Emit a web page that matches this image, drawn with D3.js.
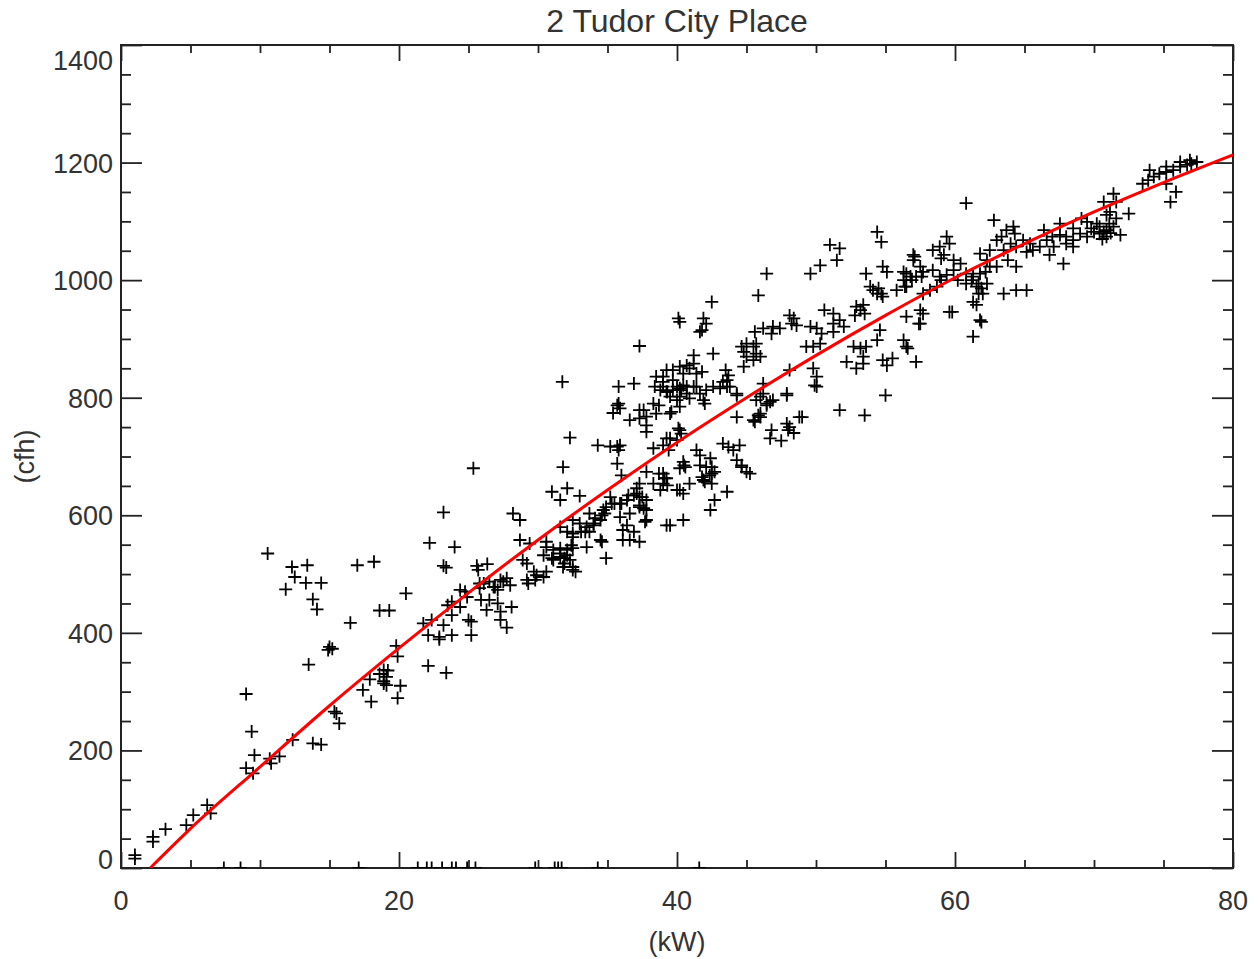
<!DOCTYPE html>
<html>
<head>
<meta charset="utf-8">
<script src="https://cdn.jsdelivr.net/npm/d3@7"></script>
<style>
  body { margin: 0; background: #fff; }
  svg text { font-family: "Liberation Sans", Arial, sans-serif; fill: #333; }
</style>
</head>
<body>
<div id="chart"></div>
<script>
// 2 Tudor City Place - 燃气用量 vs 电负荷 散点 + 拟合曲线

const TITLE = '2 Tudor City Place';
const X_LABEL = '(kW)';
const Y_LABEL = '(cfh)';
const X_TICKS = [0, 20, 40, 60, 80];
const Y_TICKS = [0, 200, 400, 600, 800, 1000, 1200, 1400];

const readings = [
    // 低负荷
    [1.0, 22], [1.0, 16], [2.3, 53], [2.3, 45], [3.2, 66], [4.7, 73], [5.2, 90], [6.2, 107], [6.45, 93],
    [9.0, 296], [9.4, 232], [9.6, 192], [10.7, 186], [11.4, 190], [10.8, 178], [9.0, 170], [9.5, 161],
    // 10 - 21 kW
    [10.55, 535], [12.3, 512], [13.4, 515], [12.5, 495], [13.3, 485], [14.4, 485], [11.85, 474], [13.8, 457],
    [14.1, 440], [17.0, 515], [18.2, 521], [20.5, 467], [18.6, 438], [19.3, 438], [16.5, 417], [15.0, 376],
    [15.2, 373], [14.9, 371], [13.5, 346], [19.8, 378], [19.9, 360], [18.9, 337], [19.2, 336], [18.6, 330],
    [17.9, 321], [18.9, 318], [19.1, 311], [20.1, 310], [19.9, 289], [17.4, 303], [18.0, 283], [15.35, 266],
    [15.5, 263], [15.7, 246], [12.35, 218], [13.8, 212], [14.4, 210], [19.1, 325], [18.9, 314],
    // 21 - 26 kW
    [22.2, 553], [24.0, 546], [23.2, 514], [23.4, 511], [25.6, 514], [25.7, 507], [26.35, 517], [24.75, 470],
    [23.8, 453], [24.4, 444], [23.5, 447], [23.8, 430], [22.35, 422], [23.2, 413], [21.75, 416], [22.1, 396],
    [22.9, 393], [23.8, 396], [22.9, 389], [25.0, 422], [25.2, 419], [25.2, 396], [22.1, 344], [23.4, 332],
    [23.2, 605], [25.35, 680], [24.4, 473], [24.9, 461],
    // 26 - 28 kW
    [25.8, 484], [26.5, 487], [26.9, 478], [27.3, 490], [27.5, 487], [27.75, 493], [28.0, 481], [27.1, 473],
    [25.9, 456], [26.5, 456], [26.3, 439], [27.1, 450], [27.3, 436], [28.1, 444], [27.3, 422], [27.75, 409],
    [25.8, 476], [26.1, 484], [26.8, 478], [28.2, 603], [28.7, 592],
    // 28 - 33 kW
    [28.9, 524], [29.2, 518], [29.7, 504], [29.9, 498], [30.4, 495], [30.6, 504], [29.3, 484], [29.8, 490],
    [28.7, 558], [29.4, 552], [29.2, 490], [30.6, 546], [31.1, 541], [31.6, 535], [32.1, 541], [32.4, 549],
    [31.9, 527], [32.3, 524], [32.5, 507], [31.0, 527], [30.4, 532], [31.6, 544], [32.1, 532], [31.8, 512],
    [32.7, 504], [32.5, 512], [31.9, 518], [31.1, 524], [32.5, 544], [31.6, 529], [30.6, 555],
    [31.75, 827], [32.3, 732], [31.8, 682], [31.0, 640], [31.6, 626], [32.1, 646], [33.0, 633],
    // 32 - 36 kW
    [32.5, 592], [33.0, 586], [33.4, 572], [32.5, 563], [31.6, 580], [32.1, 572], [33.5, 580], [33.7, 572],
    [34.6, 600], [34.8, 603], [34.5, 592], [34.0, 586], [34.5, 558], [34.6, 555], [33.7, 603], [34.1, 595],
    [34.7, 609], [34.9, 614], [35.3, 620], [33.1, 572], [32.5, 569], [33.5, 546], [34.9, 527], [34.0, 583],
    [34.3, 719], [35.7, 717], [35.8, 711], [35.7, 688], [35.7, 787], [35.9, 782], [35.4, 774], [35.8, 819],
    [36.9, 824], [35.2, 717], [35.9, 719], [35.8, 790], [36.0, 668],
    // 35 - 38 kW
    [35.2, 631], [35.5, 620], [36.0, 620], [36.4, 626], [36.5, 634], [37.1, 637], [37.5, 631], [37.8, 626],
    [37.3, 617], [37.6, 612], [37.8, 592], [35.9, 597], [36.4, 583], [36.1, 575], [36.9, 572], [36.1, 558],
    [37.3, 555], [37.3, 654], [37.1, 646], [36.6, 603], [37.7, 589], [37.8, 609], [37.3, 614],
    [36.6, 762], [37.3, 765], [37.6, 779], [37.8, 753], [37.8, 742], [38.5, 773], [38.7, 787], [39.6, 776],
    [37.3, 779], [37.8, 768], [38.3, 790], [39.5, 773], [40.2, 785], [40.2, 745], [39.5, 731], [39.0, 719],
    [38.3, 714], [37.3, 888],
    // 38 - 45 kW 上方密集区
    [38.5, 836], [39.0, 836], [38.4, 819], [39.0, 819], [39.3, 810], [39.7, 813], [40.0, 819], [40.3, 813],
    [40.7, 819], [39.7, 847], [40.2, 853], [40.9, 850], [41.2, 858], [41.4, 841], [41.8, 844], [41.2, 872],
    [42.6, 875], [41.2, 819], [41.65, 807], [40.9, 799], [40.2, 802], [42.0, 790], [42.6, 819], [43.3, 827],
    [43.7, 838], [43.6, 819], [44.3, 804], [44.8, 853], [39.25, 847], [40.7, 855], [40.45, 841], [39.7, 830],
    [39.0, 827], [38.8, 813], [39.25, 810], [40.2, 816], [39.5, 802], [40.0, 796], [40.45, 821], [40.7, 807],
    [41.4, 819], [42.1, 813], [41.9, 796], [43.1, 816], [43.6, 830], [43.8, 819], [44.3, 807], [43.5, 847],
    [40.1, 935], [40.2, 929], [41.9, 935], [42.1, 926], [41.65, 912], [41.8, 915], [42.5, 963],
    // 38 - 45 kW 下方
    [40.1, 748], [40.3, 739], [40.0, 728], [39.25, 731], [39.4, 711], [41.4, 711], [41.65, 702], [42.4, 697],
    [42.5, 682], [41.65, 685], [40.45, 691], [40.6, 682], [39.0, 671], [39.25, 663], [39.0, 654], [37.8, 674],
    [38.3, 654], [38.8, 643], [40.2, 643], [40.45, 637], [41.8, 665], [42.0, 657], [42.5, 654], [42.7, 674],
    [42.35, 668], [43.3, 722], [43.7, 716], [44.05, 711], [44.5, 719], [44.3, 694], [44.65, 685], [45.0, 674],
    [43.6, 640], [42.7, 626], [42.4, 609], [40.45, 592], [39.5, 583], [39.25, 583], [38.7, 671], [39.1, 663],
    [39.3, 651], [40.0, 643], [40.5, 685], [40.2, 680], [40.9, 654], [41.9, 660], [42.5, 671], [42.1, 682],
    [36.9, 634], [35.9, 620], [36.6, 558], [37.3, 631], [44.65, 682], [45.25, 671],
    // 44 - 50 kW
    [44.65, 887], [45.0, 892], [45.5, 887], [45.7, 875], [46.0, 870], [45.5, 864], [45.0, 870], [45.7, 892],
    [44.8, 878], [45.6, 912], [46.2, 918], [46.9, 921], [46.8, 909], [47.4, 918], [48.4, 935], [48.25, 926],
    [48.6, 923], [48.1, 940], [49.6, 921], [50.05, 918], [50.3, 892], [49.8, 887], [49.3, 887], [50.4, 909],
    [45.85, 974], [46.45, 1011],
    [49.8, 850], [50.05, 836], [50.05, 819], [48.1, 847], [47.9, 807], [46.45, 790], [46.0, 773], [46.9, 796],
    [49.9, 821], [47.9, 804], [46.7, 793], [46.45, 787], [46.2, 824], [46.2, 807], [45.85, 770], [45.6, 759],
    [49.0, 767], [46.8, 745], [47.9, 756], [48.1, 750], [48.0, 745], [48.4, 740], [47.5, 727], [46.7, 731],
    [48.8, 767], [45.5, 762], [46.0, 767], [44.3, 767], [46.0, 802], [45.7, 796],
    // 50 - 55 kW
    [50.6, 949], [51.25, 943], [51.25, 926], [51.7, 932], [52.0, 921], [51.25, 912], [52.9, 955], [53.2, 949],
    [53.4, 958], [53.5, 943], [52.8, 940], [53.9, 989], [54.1, 983], [54.4, 977], [54.7, 977], [54.8, 972],
    [54.5, 986], [53.6, 1011], [54.8, 1023], [55.1, 1014], [54.4, 1082], [54.7, 1065], [51.0, 1060],
    [51.7, 1054], [51.5, 1034], [50.3, 1025], [49.6, 1011],
    [52.2, 861], [53.4, 870], [53.4, 858], [52.9, 850], [52.7, 887], [53.2, 884], [53.6, 887], [54.6, 915],
    [54.4, 898], [54.8, 864], [55.5, 867], [55.1, 855], [51.7, 779], [53.5, 770], [55.0, 804],
    // 55 - 60 kW
    [55.8, 983], [56.5, 989], [56.9, 1000], [57.2, 1006], [57.0, 1034], [57.5, 1023], [56.3, 1014],
    [57.0, 1043], [57.7, 1014], [58.4, 1051], [58.9, 1057], [59.4, 1074], [59.6, 1062], [59.2, 1043],
    [58.4, 1017], [58.9, 1006], [58.2, 983], [59.0, 1037], [58.7, 989], [59.0, 1000], [59.4, 1009],
    [59.9, 1017], [57.1, 1040], [56.5, 1011], [56.3, 1000], [56.8, 1006], [57.6, 1006], [56.4, 989],
    [56.5, 938], [57.5, 949], [57.7, 943], [57.5, 926], [59.6, 946], [56.3, 898], [56.5, 887], [57.2, 861],
    [57.7, 977], [57.4, 926], [56.6, 884], [59.8, 946],
    // 60 - 65 kW
    [59.9, 1034], [60.4, 1028], [60.2, 1000], [60.8, 994], [61.3, 1006], [61.8, 1011], [62.3, 994],
    [61.55, 989], [62.0, 977], [61.8, 1045], [62.5, 1051], [63.0, 1023], [60.8, 1131], [62.8, 1102],
    [60.8, 1011], [61.2, 1000], [61.7, 994], [61.9, 986], [61.7, 977], [61.3, 963], [61.55, 958],
    [62.3, 1034], [62.5, 1023], [62.2, 1014], [63.0, 1068], [63.35, 1074], [63.7, 1085], [64.2, 1091],
    [64.3, 1079], [64.0, 1062], [64.4, 1057], [63.5, 1051], [63.8, 1034], [64.4, 1023],
    [61.8, 932], [61.3, 904], [61.9, 929], [63.5, 977], [64.4, 983], [65.15, 983],
    // 65 - 72 kW
    [64.9, 1068], [65.4, 1062], [65.6, 1051], [66.1, 1057], [65.15, 1048], [66.4, 1085], [67.0, 1074],
    [66.6, 1068], [67.1, 1057], [66.8, 1043], [67.8, 1028], [67.55, 1096], [68.5, 1088], [69.1, 1105],
    [69.5, 1099], [67.55, 1077], [68.0, 1074], [68.5, 1068], [69.0, 1079], [69.5, 1074], [70.0, 1082],
    [68.0, 1062], [68.5, 1057], [70.2, 1096], [70.4, 1091], [70.7, 1082], [70.9, 1085], [71.4, 1091],
    [70.4, 1079], [70.9, 1074], [71.1, 1096], [71.6, 1105], [70.7, 1133], [71.4, 1147], [71.6, 1133],
    [71.15, 1116], [70.9, 1111], [72.5, 1113], [71.9, 1077], [69.8, 1088], [70.6, 1070], [71.2, 1080],
    // 73 - 77 kW
    [73.5, 1164], [73.9, 1170], [74.3, 1176], [74.7, 1181], [75.2, 1184], [75.7, 1187], [76.2, 1193],
    [76.7, 1196], [77.0, 1198], [77.4, 1201], [74.0, 1187], [75.2, 1193], [76.2, 1201], [76.9, 1204],
    [75.2, 1164], [75.9, 1150], [75.5, 1133],
    // cfh = 0 的点（贴着底轴）
    [7.4, 0], [8.6, 0], [17.1, 0], [21.35, 0], [22.0, 0], [22.35, 0], [23.1, 0], [23.8, 0], [24.1, 0],
    [24.9, 0], [25.5, 0], [29.8, 0], [31.2, 0], [31.45, 0], [31.7, 0], [34.3, 0], [41.6, 0]
];

// 拟合曲线（红线）
const fitKw = [2.1, 5, 10, 15, 20, 25, 30, 35, 40, 45, 50, 55, 60, 65, 70, 75, 80];
const fitCfh = [0, 67, 172, 276, 374, 468, 558, 643, 724, 800, 872, 940, 1004, 1062, 1116, 1166, 1213];

function drawChart() {
    const width = 1260;
    const height = 959;
    const margin = { top: 45, right: 27, bottom: 91, left: 121 };
    const innerWidth = width - margin.left - margin.right;
    const innerHeight = height - margin.top - margin.bottom;

    const svg = d3.select('#chart')
        .append('svg')
        .attr('width', width)
        .attr('height', height);

    const g = svg.append('g')
        .attr('transform', `translate(${margin.left},${margin.top})`);

    const xScale = d3.scaleLinear().domain([0, 80]).range([0, innerWidth]);
    const yScale = d3.scaleLinear().domain([0, 1400]).range([innerHeight, 0]);

    const xMinor = d3.range(0, 81, 5).filter(v => v % 20 !== 0);
    const yMinor = d3.range(0, 1401, 50).filter(v => v % 200 !== 0);

    // 裁剪区域
    svg.append('defs').append('clipPath')
        .attr('id', 'plot-clip')
        .append('rect')
        .attr('width', innerWidth)
        .attr('height', innerHeight);

    const axisColor = '#222';

    // 刻度（朝内）
    function tickAxis(axis, transform) {
        g.append('g')
            .attr('transform', transform || null)
            .attr('color', axisColor)
            .call(axis.tickFormat(''))
            .call(s => s.select('.domain').remove())
            .selectAll('line')
            .attr('stroke-width', 1.8);
    }

    tickAxis(d3.axisBottom(xScale).tickValues(X_TICKS).tickSize(-16), `translate(0,${innerHeight})`);
    tickAxis(d3.axisBottom(xScale).tickValues(xMinor).tickSize(-8), `translate(0,${innerHeight})`);
    tickAxis(d3.axisTop(xScale).tickValues(X_TICKS).tickSize(-16));
    tickAxis(d3.axisTop(xScale).tickValues(xMinor).tickSize(-8));
    tickAxis(d3.axisLeft(yScale).tickValues(Y_TICKS).tickSize(-21));
    tickAxis(d3.axisLeft(yScale).tickValues(yMinor).tickSize(-10));
    tickAxis(d3.axisRight(yScale).tickValues(Y_TICKS).tickSize(-21), `translate(${innerWidth},0)`);
    tickAxis(d3.axisRight(yScale).tickValues(yMinor).tickSize(-10), `translate(${innerWidth},0)`);

    // 边框
    g.append('rect')
        .attr('width', innerWidth)
        .attr('height', innerHeight)
        .attr('fill', 'none')
        .attr('stroke', axisColor)
        .attr('stroke-width', 2);

    // X 轴标签
    g.selectAll('.x-label')
        .data(X_TICKS)
        .enter()
        .append('text')
        .attr('x', d => xScale(d))
        .attr('y', innerHeight + 42)
        .attr('text-anchor', 'middle')
        .style('font-size', '27px')
        .text(d => d);

    // Y 轴标签（最上和最下的标签缩进框内）
    g.selectAll('.y-label')
        .data(Y_TICKS)
        .enter()
        .append('text')
        .attr('x', -8)
        .attr('y', d => {
            const cy = Math.min(Math.max(yScale(d), 15), innerHeight - 9);
            return cy + 10;
        })
        .attr('text-anchor', 'end')
        .style('font-size', '27px')
        .text(d => d);

    // 散点（+ 号）
    const plot = g.append('g').attr('clip-path', 'url(#plot-clip)');

    plot.selectAll('.pt')
        .data(readings)
        .enter()
        .append('path')
        .attr('class', 'pt')
        .attr('transform', d => `translate(${xScale(d[0])},${yScale(d[1])})`)
        .attr('d', 'M-6.5,0H6.5M0,-6.5V6.5')
        .attr('stroke', '#000')
        .attr('stroke-width', 1.8)
        .attr('fill', 'none');

    // 拟合线
    const line = d3.line()
        .x(d => xScale(d[0]))
        .y(d => yScale(d[1]))
        .curve(d3.curveMonotoneX);

    plot.append('path')
        .datum(fitKw.map((k, i) => [k, fitCfh[i]]))
        .attr('d', line)
        .attr('fill', 'none')
        .attr('stroke', '#ff0000')
        .attr('stroke-width', 3);

    // 标题和轴标题
    svg.append('text')
        .attr('x', margin.left + innerWidth / 2)
        .attr('y', 32)
        .attr('text-anchor', 'middle')
        .style('font-size', '32px')
        .text(TITLE);

    svg.append('text')
        .attr('x', margin.left + innerWidth / 2)
        .attr('y', 951)
        .attr('text-anchor', 'middle')
        .style('font-size', '27px')
        .text(X_LABEL);

    svg.append('text')
        .attr('transform', `translate(34,${margin.top + innerHeight / 2}) rotate(-90)`)
        .attr('text-anchor', 'middle')
        .style('font-size', '27px')
        .text(Y_LABEL);
}

drawChart();
</script>
</body>
</html>
